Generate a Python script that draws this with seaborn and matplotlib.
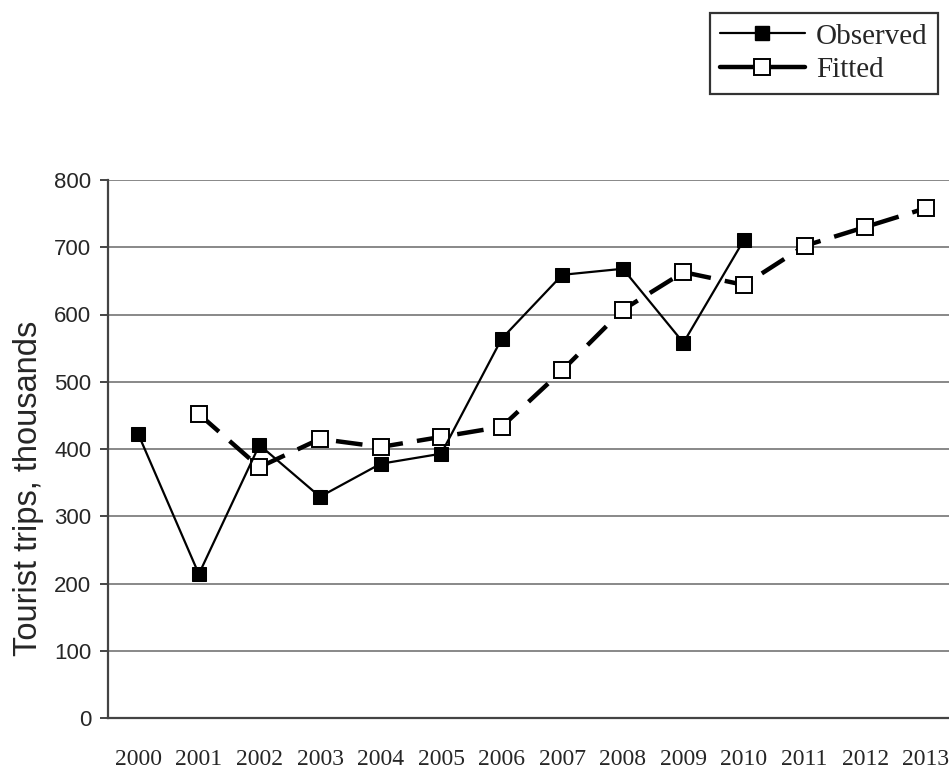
import matplotlib
matplotlib.use("Agg")
import matplotlib.pyplot as plt
import seaborn as sns
from matplotlib.lines import Line2D

years = ["2000", "2001", "2002", "2003", "2004", "2005", "2006",
         "2007", "2008", "2009", "2010", "2011", "2012", "2013"]
observed_years = years[:11]
observed = [422, 214, 406, 329, 378, 393, 564, 659, 668, 558, 711]
fitted_years = years[1:]
fitted = [452, 373, 415, 403, 418, 433, 517, 607, 663, 644, 702, 730, 758]

pos = {y: i for i, y in enumerate(years)}

sns.set_style("white")
plt.rcParams["font.family"] = ["Liberation Sans", "DejaVu Sans"]

fig = plt.figure(figsize=(9.49, 7.69), dpi=100)
W, H = 949, 769
ax = fig.add_axes([108 / W, (H - 718) / H, 848 / W, 538 / H])

sns.lineplot(x=[pos[y] for y in fitted_years], y=fitted, ax=ax, color="black",
             linewidth=3.2, linestyle=(0, (6, 3.2)), marker="s", markersize=11,
             markerfacecolor="white", markeredgecolor="black",
             markeredgewidth=1.4, zorder=3, sort=False)
sns.lineplot(x=[pos[y] for y in observed_years], y=observed, ax=ax,
             color="black", linewidth=1.6, marker="s", markersize=10,
             markerfacecolor="black", markeredgecolor="black", zorder=4,
             sort=False)

ax.set_xlim(-0.5, len(years) - 0.5)
ax.set_ylim(0, 800)
ax.set_yticks(range(0, 801, 100))
ax.yaxis.grid(True, color="#888888", linewidth=1.4)
ax.set_axisbelow(True)

ax.set_xticks(range(len(years)))
ax.set_xticklabels(years, family=["Liberation Serif", "DejaVu Serif"], fontsize=17)
ax.set_xticks([i - 0.5 for i in range(len(years) + 1)], minor=True)
ax.tick_params(axis="x", which="major", length=0, pad=22)
ax.tick_params(axis="x", which="minor", length=6, width=1.4, color="#444444",
               direction="out")
ax.tick_params(axis="y", length=6, width=1.4, color="#444444", labelsize=16,
               pad=6, left=True)

for side in ["top", "right"]:
    ax.spines[side].set_visible(False)
for side in ["left", "bottom"]:
    ax.spines[side].set_color("#444444")
    ax.spines[side].set_linewidth(1.6)

ax.set_xlabel("")
ax.set_ylabel("Tourist trips, thousands", fontsize=23.5)
ax.yaxis.set_label_coords((44 - 108) / 848, (718 - 488) / 538)

handles = [
    Line2D([], [], color="black", linewidth=1.6, marker="s", markersize=10,
           markerfacecolor="black"),
    Line2D([], [], color="black", linewidth=3.2, marker="s", markersize=11,
           markerfacecolor="white", markeredgecolor="black",
           markeredgewidth=1.4),
]
leg = fig.legend(handles, ["Observed", "Fitted"], loc="upper right",
                 bbox_to_anchor=(938 / W, 1 - 13 / H),
                 prop={"family": ["Liberation Serif", "DejaVu Serif"], "size": 21},
                 frameon=True, fancybox=False, edgecolor="black",
                 handlelength=2.9, handletextpad=0.4, borderpad=0.35,
                 labelspacing=0.25, borderaxespad=0)
leg.get_frame().set_linewidth(1.6)

fig.savefig("out.png", dpi=100)
